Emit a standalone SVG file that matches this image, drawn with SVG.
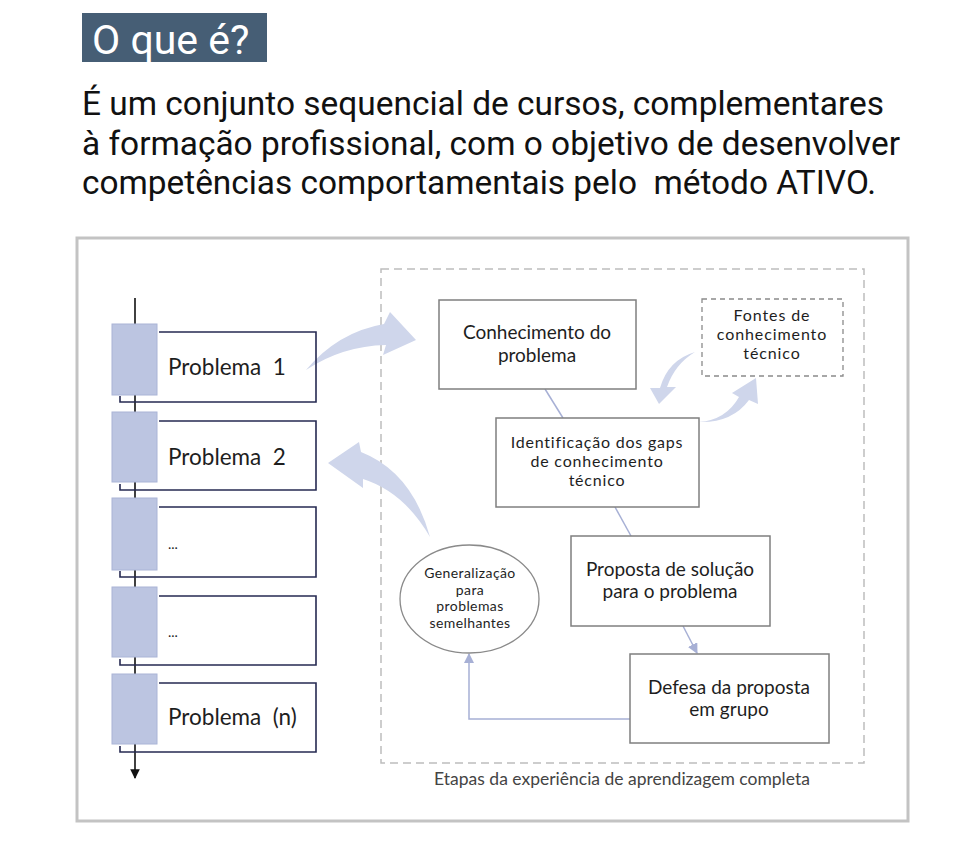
<svg xmlns="http://www.w3.org/2000/svg" width="963" height="850" viewBox="0 0 963 850">
<defs>
<style>
.t{font-family:Lato,"Open Sans",sans-serif;fill:#1e1e1e}
.box{fill:#fff;stroke:#7f7f7f;stroke-width:1.5}
.pb{fill:none;stroke:#262a52;stroke-width:1.6}
.blue{fill:#bcc5e1;stroke:#aab4d6;stroke-width:1}
.blk{fill:#cfd6eb}
.con{fill:none;stroke:#a7b0d5;stroke-width:1.5}
.vl{stroke:#111;stroke-width:1.6}
</style>
<marker id="ah" viewBox="0 0 10 10" refX="9" refY="5" markerWidth="7" markerHeight="7" orient="auto-start-reverse"><path d="M0,0 L10,5 L0,10 z" fill="#a7b0d5"/></marker>
<marker id="ahk" viewBox="0 0 10 10" refX="9" refY="5" markerWidth="6" markerHeight="6" orient="auto"><path d="M0,0 L10,5 L0,10 z" fill="#111"/></marker>
</defs>
<rect width="963" height="850" fill="#fff"/>
<g id="header">
<rect x="82" y="13" width="185" height="49" fill="#465e75"/>
<text x="92" y="54" font-family="Roboto,sans-serif" font-size="41" fill="#fff">O que é?</text>
<text font-family="Roboto,sans-serif" font-size="33" fill="#111">
<tspan x="82" y="115" textLength="802" lengthAdjust="spacingAndGlyphs">É um conjunto sequencial de cursos, complementares</tspan>
<tspan x="82" y="155" textLength="818" lengthAdjust="spacingAndGlyphs">à formação profissional, com o objetivo de desenvolver</tspan>
<tspan x="82" y="194" textLength="794" lengthAdjust="spacingAndGlyphs" xml:space="preserve">competências comportamentais pelo  método ATIVO.</tspan>
</text>
</g>
<g id="frame">
<rect x="77" y="238" width="831" height="583" fill="none" stroke="#c3c3c3" stroke-width="3"/>
<rect x="381" y="269" width="483" height="494" fill="none" stroke="#bdbdbd" stroke-width="1.5" stroke-dasharray="8,5"/>
<text class="t" x="622" y="785" font-size="17.5" text-anchor="middle" style="fill:#444">Etapas da experiência de aprendizagem completa</text>
</g>
<g id="connectors">
<line class="vl" x1="135" y1="298" x2="135" y2="324"/>
<line class="vl" x1="135" y1="395" x2="135" y2="412"/>
<line class="vl" x1="135" y1="482" x2="135" y2="498"/>
<line class="vl" x1="135" y1="570" x2="135" y2="587"/>
<line class="vl" x1="135" y1="657" x2="135" y2="674"/>
<line class="vl" x1="135" y1="744" x2="135" y2="778" marker-end="url(#ahk)"/>
<line class="con" x1="545" y1="389" x2="563" y2="418"/>
<line class="con" x1="615" y1="507" x2="631" y2="536"/>
<line class="con" x1="683" y1="626" x2="697" y2="653" marker-end="url(#ah)"/>
<polyline class="con" points="630,719 469,719 469,654" marker-end="url(#ah)"/>
<path class="blk" d="M306 370 Q338 332 384 324 L390 312 L416 340 L383 355 L386 345 Q342 346 306 370 Z"/>
<path class="blk" d="M430 537 Q412 472 361 452 L359 442 L328 463 L363 488 L363 479 Q404 492 430 537 Z"/>
<path class="blk" d="M695 352 Q668 360 660 388 L650 388 L659 404 L676 387 L667 387 Q675 364 695 352 Z"/>
<path class="blk" d="M699 422 Q726 420 739 397 L732 393 L756 378 L758 404 L749 400 Q732 423 699 422 Z"/>
</g>
<g id="problema1">
<rect class="blue" x="112" y="324" width="45" height="71"/>
<path class="pb" d="M159 332 H316 V402 H120 V396"/>
<text class="t" x="168" y="375" font-size="22.5" xml:space="preserve">Problema  1</text>
</g>
<g id="problema2">
<rect class="blue" x="112" y="412" width="45" height="70"/>
<path class="pb" d="M159 421 H316 V490 H120 V484"/>
<text class="t" x="168" y="465" font-size="22.5" xml:space="preserve">Problema  2</text>
</g>
<g id="problema3">
<rect class="blue" x="112" y="498" width="45" height="72"/>
<path class="pb" d="M159 507 H316 V577 H120 V571"/>
<text class="t" x="168" y="549" font-size="14">...</text>
</g>
<g id="problema4">
<rect class="blue" x="112" y="587" width="45" height="70"/>
<path class="pb" d="M159 596 H316 V665 H120 V659"/>
<text class="t" x="168" y="637" font-size="14">...</text>
</g>
<g id="problemaN">
<rect class="blue" x="112" y="674" width="45" height="70"/>
<path class="pb" d="M159 683 H316 V752 H120 V746"/>
<text class="t" x="168" y="725" font-size="22.5" xml:space="preserve">Problema  (n)</text>
</g>
<g id="conhecimento">
<rect class="box" x="439" y="300" width="197" height="89"/>
<text class="t" x="537" y="339" font-size="19" text-anchor="middle">Conhecimento do</text>
<text class="t" x="537" y="362" font-size="19" text-anchor="middle">problema</text>
</g>
<g id="fontes">
<rect x="702" y="299" width="141" height="77" fill="#fff" stroke="#8a8a8a" stroke-width="1.3" stroke-dasharray="5,4"/>
<text class="t" x="772" y="321" font-size="16" letter-spacing="0.9" text-anchor="middle">Fontes de</text>
<text class="t" x="772" y="340" font-size="16" letter-spacing="0.9" text-anchor="middle">conhecimento</text>
<text class="t" x="772" y="359" font-size="16" letter-spacing="0.9" text-anchor="middle">técnico</text>
</g>
<g id="identificacao">
<rect class="box" x="496" y="418" width="203" height="89"/>
<text class="t" x="597" y="448" font-size="16" letter-spacing="0.8" text-anchor="middle">Identificação dos gaps</text>
<text class="t" x="597" y="467" font-size="16" letter-spacing="0.8" text-anchor="middle">de conhecimento</text>
<text class="t" x="597" y="486" font-size="16" letter-spacing="0.8" text-anchor="middle">técnico</text>
</g>
<g id="proposta">
<rect class="box" x="571" y="536" width="199" height="90"/>
<text class="t" x="670" y="576" font-size="19" text-anchor="middle">Proposta de solução</text>
<text class="t" x="670" y="598" font-size="19" text-anchor="middle">para o problema</text>
</g>
<g id="defesa">
<rect class="box" x="630" y="654" width="199" height="89"/>
<text class="t" x="729" y="694" font-size="19" text-anchor="middle">Defesa da proposta</text>
<text class="t" x="729" y="716" font-size="19" text-anchor="middle">em grupo</text>
</g>
<g id="generalizacao">
<ellipse cx="469.5" cy="599" rx="69.5" ry="54" fill="#fff" stroke="#8a8a8a" stroke-width="1.3"/>
<text class="t" x="470" y="578" font-size="14" letter-spacing="0.4" text-anchor="middle">Generalização</text>
<text class="t" x="470" y="595" font-size="14" letter-spacing="0.4" text-anchor="middle">para</text>
<text class="t" x="470" y="611" font-size="14" letter-spacing="0.4" text-anchor="middle">problemas</text>
<text class="t" x="470" y="628" font-size="14" letter-spacing="0.4" text-anchor="middle">semelhantes</text>
</g>
</svg>
